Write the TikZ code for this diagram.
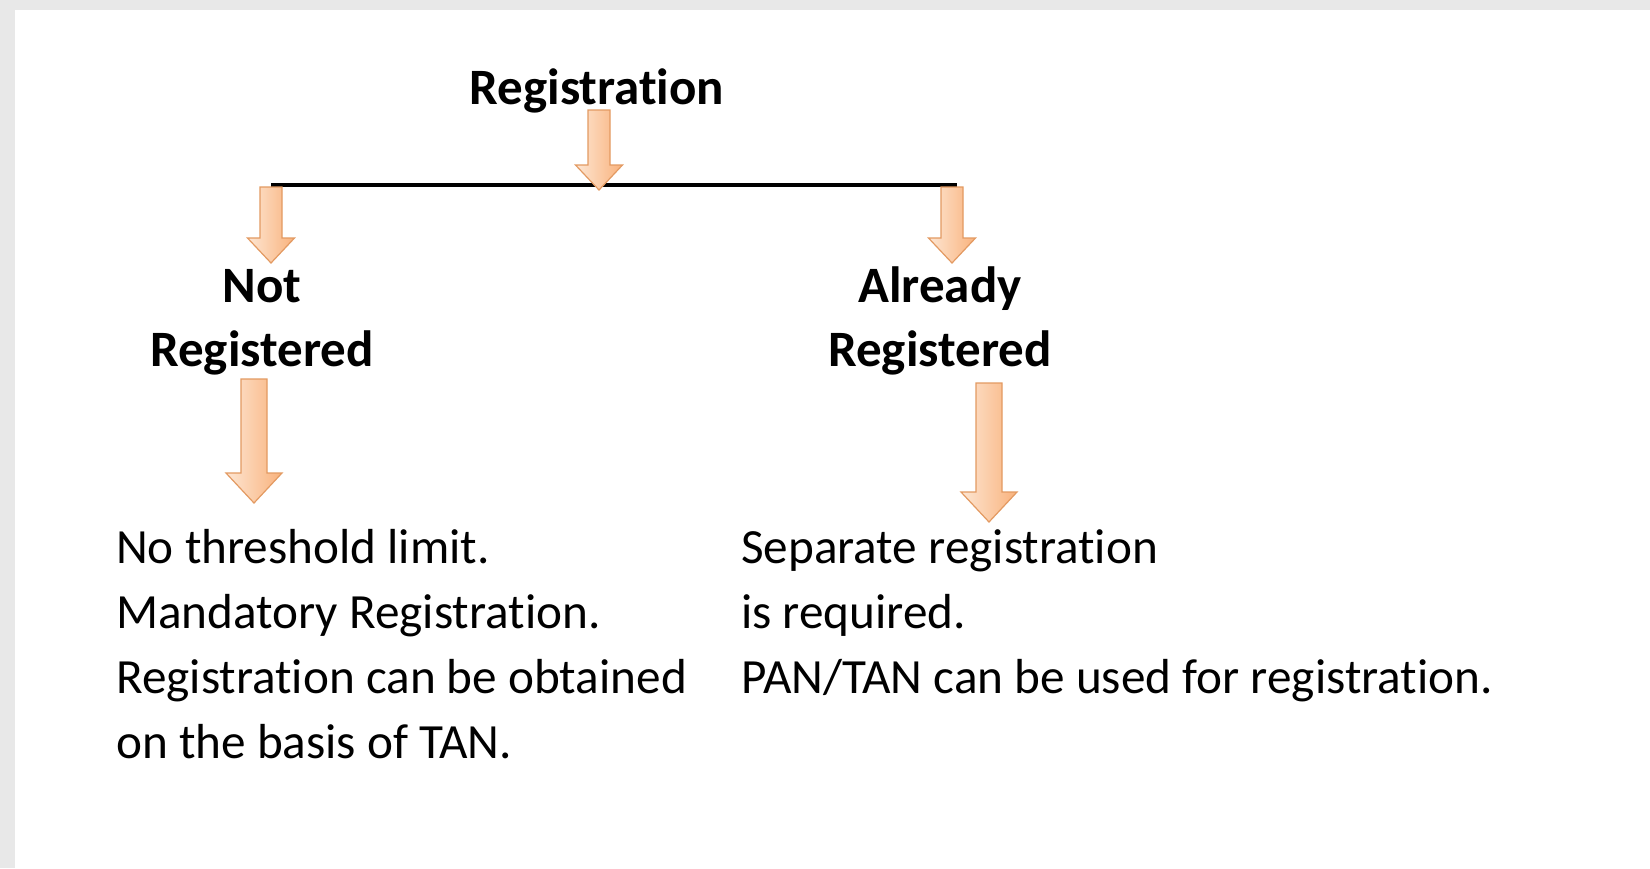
\documentclass[tikz,border=0pt]{standalone}
\usepackage{fontspec}
\setmainfont[Ligatures=NoCommon]{Carlito}
\usetikzlibrary{calc, positioning}

\definecolor{pagegray}{HTML}{E8E8E8}
\definecolor{arrowlight}{HTML}{FDE6D3}
\definecolor{arrowdark}{HTML}{F9B27C}
\definecolor{arrowedge}{HTML}{E39A62}

\tikzset{
  arrowfill/.style={left color=arrowlight, right color=arrowdark, draw=arrowedge, line width=1.2pt, line join=miter},
  headtext/.style={font=\fontsize{51}{64}\selectfont\bfseries, align=center, inner sep=0pt},
  bodytext/.style={font=\fontsize{49.2}{65}\selectfont, align=left, inner sep=0pt},
}

% block arrow: #1 top, #2 tip, #3 half shaft, #4 half head, #5 head length
\newcommand{\fatarrow}[5]{%
  \shade[arrowfill] ($(#1)+(-#3,0)$) -- ($(#2)+(-#3,-#5)$) -- ($(#2)+(-#4,-#5)$) -- (#2)
    -- ($(#2)+(#4,-#5)$) -- ($(#2)+(#3,-#5)$) -- ($(#1)+(#3,0)$) -- cycle;}

\begin{document}
\begin{tikzpicture}[x=1pt, y=-1pt]
	\fill[pagegray] (0,0) rectangle (1650,868);
	\fill[white] (15,10) rectangle (1650,868);
	\useasboundingbox (0,0) rectangle (1650,868);

	% base anchor sits on the last line
	\node[headtext, anchor=base] (reg) at (597,104) {Registration};
	\node[headtext, anchor=base] (notreg) at (262,366) {Not\\Registered};
	\node[headtext, anchor=base] (already) at (940,366) {Already\\Registered};
	\node[bodytext, anchor=base west] (notinfo) at (116,758) {No threshold limit.\\Mandatory Registration.\\Registration can be obtained\\on the basis of TAN.};
	\node[bodytext, anchor=base west] (alreadyinfo) at (741,693) {Separate registration\\is required.\\PAN/TAN can be used for registration.};

	\coordinate (lbar) at (271,185);
	\coordinate (rbar) at (957,185);
	\draw[line width=4pt] (lbar) -- (rbar);

	\coordinate (regout) at (599,110);
	\coordinate (hub) at (599,190);
	\coordinate (lout) at (271,187);
	\coordinate (lin) at (271,263);
	\coordinate (rout) at (952,187);
	\coordinate (rin) at (952,263);
	\coordinate (notout) at (254,379);
	\coordinate (notin) at (254,503);
	\coordinate (alout) at (989,383);
	\coordinate (alin) at (989,522);

	\fatarrow{regout}{hub}{11}{23.5}{25}
	\fatarrow{lout}{lin}{11}{23.5}{25}
	\fatarrow{rout}{rin}{11}{23.5}{25}
	\fatarrow{notout}{notin}{13}{28}{30}
	\fatarrow{alout}{alin}{13}{28}{30}
\end{tikzpicture}
\end{document}
